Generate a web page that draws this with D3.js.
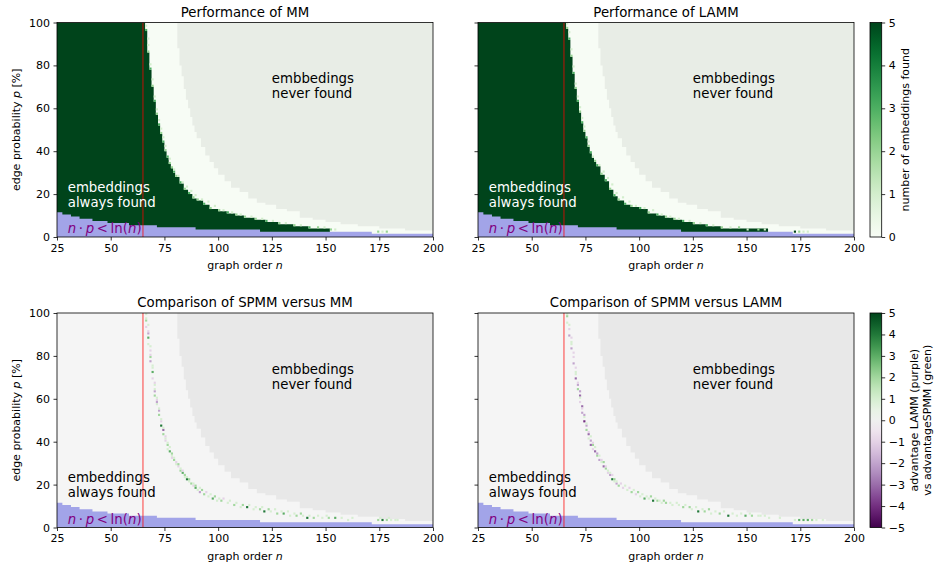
<!DOCTYPE html>
<html>
<head>
<meta charset="utf-8">
<script src="https://cdn.jsdelivr.net/npm/d3@7"></script>
<style>
  body { margin: 0; background: #fff; }
  text { font-family: "DejaVu Sans", sans-serif; }
</style>
</head>
<body>
<svg id="chart" width="935" height="567"></svg>
<script>
// axis ticks
const xTicks = [25, 50, 75, 100, 125, 150, 175, 200];
const yTicks = [0, 20, 40, 60, 80, 100];
const criticalN = 65;

// blue region n*p < ln(n): [n where step starts, p height]
const blueSteps = [[25, 11.5], [27.5, 10.5], [31.5, 9.5], [35.5, 8.5], [41.5, 7.5], [48.5, 6.5],
  [58.5, 5.5], [71.5, 4.5], [89.5, 3.5], [119.5, 2.5], [171.5, 1.5]];

// upper edge of the region that was tested (above it: never found)
const testedSteps = [[25, 100], [81, 88], [82, 80], [83, 75], [84, 69], [85, 64], [86, 60], [87, 56],
  [88, 52], [89, 49], [90, 46], [92, 42], [94, 38], [96, 35], [98, 32], [100, 29], [103, 26],
  [106, 23], [110, 21], [114, 18], [118, 16], [122, 15], [127, 13], [132, 12], [138, 9],
  [144, 8], [150, 7], [157, 6], [165, 5], [175, 4], [187, 3]];

// upper edge of "all 5 embeddings found"
const mmFull = [[25, 100], [66, 96], [67, 86], [68, 78], [69, 70], [70, 63], [71, 57], [72, 52],
  [73, 48], [74, 44], [75, 40], [76, 37], [77, 34], [78, 32], [79, 30], [80, 28], [82, 25],
  [84, 22], [86, 20], [88, 18], [90, 17], [93, 15], [96, 13], [100, 12], [104, 11], [108, 10],
  [112, 9], [117, 8], [122, 7], [128, 6], [135, 5], [142, 4], [152, 0]];

const lammFull = [[25, 100], [66, 97], [67, 92], [68, 84], [69, 76], [70, 69], [71, 63], [72, 58],
  [73, 53], [74, 49], [75, 46], [76, 42], [77, 39], [78, 37], [79, 35], [80, 33], [82, 29],
  [84, 26], [86, 22], [88, 19], [90, 17], [93, 15], [96, 14], [100, 13], [104, 11], [108, 10],
  [112, 9], [116, 8], [120, 7], [125, 6], [131, 5], [138, 4], [160, 0]];

// partly found cells [n, p, count]
const mmPartial = [[66, 96, 3], [66, 98, 1], [67, 86, 2], [67, 89, 1], [67, 92, 1], [68, 78, 3], [68, 80, 1],
  [69, 70, 2], [69, 73, 1], [70, 63, 3], [70, 65, 1], [71, 57, 2], [71, 59, 1], [72, 52, 3], [72, 54, 1],
  [73, 48, 2], [73, 50, 1], [74, 44, 3], [74, 46, 1], [75, 40, 2], [75, 42, 1], [76, 37, 3], [77, 34, 2],
  [77, 36, 1], [78, 32, 2], [79, 30, 3], [79, 31, 1], [80, 28, 2], [81, 28, 1], [82, 25, 3], [83, 25, 1],
  [84, 22, 2], [85, 23, 1], [86, 20, 3], [87, 21, 1], [88, 18, 2], [89, 19, 1], [90, 17, 2], [92, 17, 1],
  [93, 15, 3], [95, 16, 1], [96, 13, 2], [98, 14, 1], [100, 12, 2], [102, 12, 1], [104, 11, 3], [106, 11, 1],
  [108, 10, 2], [110, 10, 1], [112, 9, 2], [115, 9, 1], [117, 8, 2], [120, 8, 1], [122, 7, 3], [125, 7, 1],
  [128, 6, 2], [131, 6, 1], [135, 5, 2], [138, 5, 1], [142, 4, 3], [146, 4, 2], [149, 4, 1], [152, 3, 2],
  [154, 3, 1], [174, 2, 2], [176, 2, 1], [178, 2, 2]];

const lammPartial = [[66, 97, 2], [66, 99, 1], [67, 92, 3], [67, 95, 1], [68, 84, 2], [68, 87, 1], [69, 76, 3],
  [69, 79, 1], [70, 69, 2], [70, 71, 1], [71, 63, 3], [71, 65, 1], [72, 58, 2], [72, 60, 1], [73, 53, 3],
  [73, 55, 1], [74, 49, 2], [74, 51, 1], [75, 46, 3], [76, 42, 2], [76, 44, 1], [77, 39, 3], [78, 37, 1],
  [79, 35, 2], [80, 33, 3], [81, 33, 1], [82, 29, 2], [83, 30, 1], [84, 26, 3], [85, 27, 1], [86, 22, 2],
  [87, 24, 1], [88, 19, 3], [89, 20, 1], [90, 17, 2], [92, 18, 1], [93, 15, 3], [95, 16, 1], [96, 14, 2],
  [98, 14, 1], [100, 13, 3], [102, 13, 1], [104, 11, 2], [106, 12, 1], [108, 10, 3], [110, 10, 1],
  [112, 9, 2], [114, 9, 1], [116, 8, 2], [118, 8, 1], [120, 7, 3], [123, 7, 1], [125, 6, 2], [128, 6, 1],
  [131, 5, 3], [134, 5, 1], [138, 4, 2], [142, 4, 1], [146, 4, 2], [150, 3, 1], [155, 3, 2], [158, 3, 1],
  [172, 2, 5], [174, 2, 2], [176, 2, 1], [178, 2, 1]];

// SPMM minus other method [n, p, diff]
const cmpMM = [[66, 99, 1], [66, 96, 2], [66, 93, -1], [67, 90, -2], [67, 88, 3], [67, 85, 1], [68, 82, -1],
  [68, 79, 2], [68, 77, -2], [69, 74, 1], [69, 72, 3], [69, 69, -1], [70, 66, 1], [70, 63, -2], [70, 61, 2],
  [71, 59, -1], [71, 57, 1], [72, 54, -2], [72, 52, 2], [73, 49, -1], [73, 47, 4], [74, 45, -3], [74, 43, 2],
  [75, 41, 1], [75, 40, -1], [76, 38, 2], [76, 36, 1], [77, 35, 3], [78, 33, 1], [78, 32, -1], [79, 31, 2],
  [80, 29, 1], [81, 28, -1], [82, 26, 2], [83, 25, 3], [84, 23, 1], [85, 22, 4], [86, 21, 1], [87, 20, 2],
  [88, 19, -1], [89, 18, 3], [90, 17, 1], [91, 16, -2], [93, 15, 2], [95, 14, 1], [97, 13, 3], [99, 12, 1],
  [101, 12, 2], [104, 11, 1], [107, 10, 2], [110, 9, 1], [113, 9, 4], [116, 8, 1], [119, 8, 2], [121, 7, 4],
  [124, 7, 1], [127, 6, 2], [130, 6, 3], [133, 5, 1], [136, 5, 2], [139, 5, 1], [141, 4, 4], [144, 4, 2],
  [148, 4, 1], [151, 4, 2], [154, 4, 3], [157, 4, 1], [160, 3, 1], [174, 3, 2], [176, 3, 4], [178, 3, 2],
  [180, 3, 1], [183, 3, 1],
  [66, 97, 1], [67, 94, 1], [67, 91, -1], [68, 84, 1], [68, 80, -1], [69, 75, 1], [70, 67, -1], [70, 64, 1],
  [71, 60, 1], [71, 58, -2], [72, 55, 1], [73, 50, 1], [74, 46, 1], [75, 42, -1], [76, 39, 1], [77, 37, 1],
  [78, 34, 2], [79, 32, 1], [80, 30, -1], [81, 29, 2], [82, 27, 1], [83, 26, -1], [84, 24, 2], [85, 23, 1],
  [86, 22, 2], [88, 20, 1], [89, 19, 2], [91, 18, 1], [92, 17, 2], [94, 16, -1], [96, 15, 1], [98, 14, 2],
  [100, 13, 1], [102, 13, -1], [105, 12, 1], [108, 11, 1], [111, 10, 2], [114, 10, 1], [117, 9, 1],
  [120, 9, 1], [123, 8, 2], [126, 8, 1], [129, 7, 1], [132, 7, 1], [135, 6, 1], [138, 6, 2], [142, 5, 1],
  [146, 5, 1], [150, 5, 1], [162, 4, 1], [175, 4, 1], [179, 4, 1], [182, 3, 1]];

const cmpLAMM = [[66, 98, 2], [66, 95, 1], [67, 92, -1], [67, 89, -2], [68, 86, 1], [68, 83, -2], [69, 79, -1],
  [69, 76, -2], [70, 72, 1], [70, 69, -3], [71, 66, -2], [71, 64, 2], [72, 61, -3], [72, 58, -1], [73, 56, -3],
  [73, 53, -2], [74, 51, 1], [74, 49, -4], [75, 47, -2], [75, 45, 2], [76, 43, -3], [76, 41, 1], [77, 40, -2],
  [78, 38, 2], [78, 36, -1], [79, 35, -3], [80, 33, 2], [81, 31, -2], [82, 30, 1], [83, 28, -3], [84, 27, 2],
  [85, 25, -1], [86, 24, -2], [87, 22, 4], [88, 21, 1], [89, 20, -2], [90, 19, 2], [92, 18, -1], [94, 17, 1],
  [96, 16, 2], [98, 15, -1], [100, 14, 1], [102, 13, 3], [104, 13, 1], [106, 12, 4], [108, 12, 2],
  [110, 11, 1], [112, 11, 2], [115, 10, 1], [118, 10, 1], [120, 9, 2], [124, 8, 1], [127, 7, 4], [130, 7, 2],
  [133, 6, 1], [137, 6, 2], [141, 5, 4], [145, 5, 1], [149, 5, 3], [152, 5, 2], [156, 5, 1], [160, 4, 1],
  [174, 3, 3], [176, 3, 3], [178, 3, 3], [180, 3, 2], [185, 3, 1],
  [66, 99, 1], [67, 94, 1], [68, 88, -1], [68, 85, 1], [69, 81, -1], [70, 74, -1], [70, 71, 1], [71, 67, -1],
  [72, 63, -2], [72, 60, 1], [73, 55, -1], [74, 52, -2], [75, 48, 1], [76, 44, -1], [77, 42, 1], [77, 38, -3],
  [78, 39, -1], [79, 37, 1], [80, 34, -2], [81, 33, 1], [82, 31, -1], [83, 30, 2], [84, 28, -1], [85, 26, 1],
  [86, 25, 1], [87, 24, -1], [88, 22, 2], [89, 21, 1], [91, 20, -1], [93, 19, 1], [95, 18, -1], [97, 17, 1],
  [99, 16, 2], [101, 15, 1], [103, 14, 1], [105, 14, 2], [107, 13, 1], [109, 12, 1], [111, 12, 2],
  [114, 11, 1], [117, 11, 1], [121, 10, 1], [123, 9, 2], [126, 9, 1], [129, 8, 1], [132, 8, 2], [135, 7, 1],
  [139, 7, 1], [143, 6, 1], [147, 6, 1], [151, 6, 1], [155, 5, 1], [158, 5, 1], [165, 4, 1], [172, 3, 1],
  [182, 3, 1]];

const PW = 376, PH = 214.5;
const blue = '#a2a4e8';

const svg = d3.select('#chart');

const x = d3.scaleLinear().domain([25, 200]).range([0, PW]);
const y = d3.scaleLinear().domain([0, 100]).range([PH, 0]);

function stepArea(steps) {
    const pts = steps.concat([[200, steps[steps.length - 1][1]]]);
    return d3.area()
        .x(d => x(d[0]))
        .y0(y(0))
        .y1(d => y(d[1]))
        .curve(d3.curveStepAfter)(pts);
}

const panels = [
    { left: 57, top: 22.5, title: 'Performance of MM', type: 'perf', full: mmFull, cells: mmPartial, showY: true },
    { left: 478, top: 22.5, title: 'Performance of LAMM', type: 'perf', full: lammFull, cells: lammPartial, showY: false },
    { left: 57, top: 313, title: 'Comparison of SPMM versus MM', type: 'cmp', cells: cmpMM, showY: true },
    { left: 478, top: 313, title: 'Comparison of SPMM versus LAMM', type: 'cmp', cells: cmpLAMM, showY: false }
];

const defs = svg.append('defs');

panels.forEach((pn, i) => {
    const g = svg.append('g').attr('transform', `translate(${pn.left},${pn.top})`);
    const perf = pn.type === 'perf';

    defs.append('clipPath').attr('id', 'clip' + i)
        .append('rect').attr('width', PW).attr('height', PH);
    const plot = g.append('g').attr('clip-path', `url(#clip${i})`);

    // never found background
    plot.append('rect').attr('width', PW).attr('height', PH)
        .attr('fill', perf ? '#e8ede6' : '#e8e8e8');

    // tested region (0 found / no difference)
    plot.append('path').attr('d', stepArea(testedSteps))
        .attr('fill', perf ? d3.interpolateGreens(0) : '#f5f5f5');

    if (perf) {
        plot.append('path').attr('d', stepArea(pn.full))
            .attr('fill', d3.interpolateGreens(1));
    }

    plot.selectAll('rect.cell')
        .data(pn.cells)
        .join('rect')
        .attr('class', 'cell')
        .attr('x', d => x(d[0]))
        .attr('width', d => x(d[0] + 1) - x(d[0]))
        .attr('y', d => y(d[1] + 1))
        .attr('height', d => y(d[1]) - y(d[1] + 1))
        .attr('fill', d => perf ? d3.interpolateGreens(d[2] / 5) : d3.interpolatePRGn((d[2] + 5) / 10));

    plot.append('path').attr('d', stepArea(blueSteps)).attr('fill', blue);

    plot.append('line')
        .attr('x1', x(criticalN)).attr('x2', x(criticalN))
        .attr('y1', y(0)).attr('y2', y(100))
        .attr('stroke', 'red').attr('stroke-opacity', 0.5).attr('stroke-width', 1.5);

    // annotations
    const never = g.append('text').attr('x', x(125)).attr('y', y(64.8))
        .style('font-size', '13.3px').attr('fill', '#000');
    never.append('tspan').attr('x', x(125)).attr('dy', '-15').text('embbedings');
    never.append('tspan').attr('x', x(125)).attr('dy', '15').text('never found');

    const always = g.append('text').attr('x', x(30)).attr('y', y(14.2))
        .style('font-size', '13.3px').attr('fill', perf ? '#fff' : '#000');
    always.append('tspan').attr('x', x(30)).attr('dy', '-15').text('embeddings');
    always.append('tspan').attr('x', x(30)).attr('dy', '15').text('always found');

    const rule = g.append('text').attr('x', x(30)).attr('y', y(1.8))
        .style('font-size', '13.3px').attr('fill', 'purple');
    rule.append('tspan').style('font-style', 'italic').text('n');
    rule.append('tspan').text('\u2009·\u2009');
    rule.append('tspan').style('font-style', 'italic').text('p');
    rule.append('tspan').text('\u2009<\u2009ln(');
    rule.append('tspan').style('font-style', 'italic').text('n');
    rule.append('tspan').text(')');

    // axes
    const xa = g.append('g').attr('transform', `translate(0,${PH})`)
        .call(d3.axisBottom(x).tickValues(xTicks).tickSize(3.5).tickPadding(3.5));
    const ya = g.append('g')
        .call(d3.axisLeft(y).tickValues(yTicks).tickSize(3.5).tickPadding(3.5)
            .tickFormat(pn.showY ? d3.format('d') : ''));
    [xa, ya].forEach(a => {
        a.select('.domain').remove();
        a.selectAll('line').attr('stroke', '#000').attr('stroke-width', 0.8);
        a.selectAll('text').attr('fill', '#000')
            .style('font-family', '"DejaVu Sans", sans-serif').style('font-size', '11px');
    });

    g.append('rect').attr('width', PW).attr('height', PH)
        .attr('fill', 'none').attr('stroke', '#000').attr('stroke-width', 0.8);

    g.append('text').attr('x', PW / 2).attr('y', -6)
        .attr('text-anchor', 'middle').style('font-size', '13.3px').text(pn.title);

    const xl = g.append('text').attr('x', PW / 2).attr('y', PH + 32)
        .attr('text-anchor', 'middle').style('font-size', '11px');
    xl.append('tspan').text('graph order ');
    xl.append('tspan').style('font-style', 'italic').text('n');

    if (pn.showY) {
        const yl = g.append('text')
            .attr('transform', `translate(${19.5 - pn.left},${PH / 2}) rotate(-90)`)
            .attr('text-anchor', 'middle').style('font-size', '11px');
        yl.append('tspan').text('edge probability ');
        yl.append('tspan').style('font-style', 'italic').text('p');
        yl.append('tspan').text(' [%]');
    }
});

// colorbars
const bars = [
    { top: 22.5, interp: d3.interpolateGreens, domain: [0, 5], ticks: [0, 1, 2, 3, 4, 5],
      label: ['number of embeddings found'] },
    { top: 313, interp: d3.interpolatePRGn, domain: [-5, 5], ticks: d3.range(-5, 6),
      label: ['advantage LAMM (purple)', 'vs advantageSPMM (green)'] }
];

bars.forEach((b, i) => {
    const gid = 'grad' + i;
    const grad = defs.append('linearGradient').attr('id', gid)
        .attr('x1', 0).attr('y1', 1).attr('x2', 0).attr('y2', 0);
    d3.range(0, 1.0001, 0.05).forEach(t => {
        grad.append('stop').attr('offset', t).attr('stop-color', b.interp(t));
    });
    const cw = 11.7;
    const g = svg.append('g').attr('transform', `translate(870,${b.top})`);
    g.append('rect').attr('width', cw).attr('height', PH).attr('fill', `url(#${gid})`)
        .attr('stroke', '#000').attr('stroke-width', 0.8);
    const s = d3.scaleLinear().domain(b.domain).range([PH, 0]);
    const a = g.append('g').attr('transform', `translate(${cw},0)`)
        .call(d3.axisRight(s).tickValues(b.ticks).tickSize(3.5).tickPadding(3.5)
            .tickFormat(d3.format('d')));
    a.select('.domain').remove();
    a.selectAll('line').attr('stroke', '#000').attr('stroke-width', 0.8);
    a.selectAll('text').attr('fill', '#000')
        .style('font-family', '"DejaVu Sans", sans-serif').style('font-size', '11px');

    const lab = g.append('text')
        .attr('transform', `translate(${b.label.length === 1 ? 39 : 48},${PH / 2}) rotate(-90)`)
        .attr('text-anchor', 'middle').style('font-size', '11px');
    b.label.forEach((t, j) => {
        lab.append('tspan').attr('x', 0).attr('dy', j === 0 ? 0 : 12.5).text(t);
    });
});
</script>
</body>
</html>
